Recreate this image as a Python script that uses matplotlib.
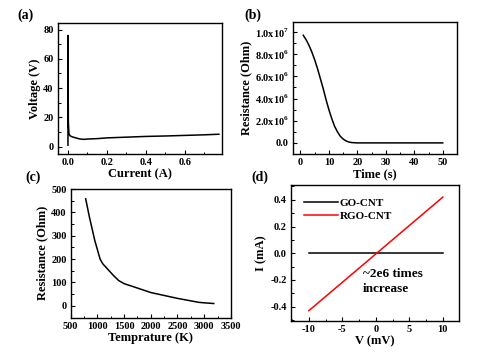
import matplotlib
matplotlib.use("Agg")
import matplotlib.pyplot as plt
from matplotlib.ticker import AutoMinorLocator

plt.rcParams['font.family'] = ['Liberation Serif', 'DejaVu Serif']
plt.rcParams['font.weight'] = 'bold'
plt.rcParams['axes.labelweight'] = 'bold'
plt.rcParams['axes.unicode_minus'] = False
plt.rcParams['mathtext.fontset'] = 'custom'
plt.rcParams['mathtext.rm'] = 'Liberation Serif:bold'
plt.rcParams['mathtext.bf'] = 'Liberation Serif:bold'

# (a) voltage vs current
current = [0.0, 0.0, 0.002, 0.005, 0.01, 0.02, 0.04, 0.06, 0.08, 0.1, 0.15,
           0.2, 0.3, 0.4, 0.5, 0.6, 0.7, 0.775]
voltage = [1, 76, 17, 9, 7.5, 6.8, 6.0, 5.3, 5.0, 5.2, 5.5,
           6.0, 6.5, 7.0, 7.3, 7.7, 8.1, 8.5]

# (b) resistance vs time
time_s = [1, 2, 3, 4, 5, 6, 7, 8, 9, 10, 11, 12, 13, 14, 15, 16, 17, 18,
          20, 25, 30, 40, 50]
res_time = [9.7e6, 9.3e6, 8.8e6, 8.2e6, 7.5e6, 6.7e6, 5.8e6, 4.9e6, 3.9e6,
            3.0e6, 2.2e6, 1.5e6, 1.0e6, 0.6e6, 0.35e6, 0.18e6, 0.08e6,
            0.03e6, 0, 0, 0, 0, 0]
b_ticks = [0, 2e6, 4e6, 6e6, 8e6, 1e7]
b_labels = ['0.0', '2.0x10$^{6}$', '4.0x10$^{6}$', '6.0x10$^{6}$',
            '8.0x10$^{6}$', '1.0x10$^{7}$']

# (c) resistance vs temperature
temp = [780, 850, 950, 1050, 1100, 1200, 1300, 1400, 1500, 1700, 2000,
        2500, 2900, 3000, 3180]
res_temp = [458, 380, 280, 200, 180, 155, 130, 108, 95, 80, 57,
            32, 15, 13, 10]

# (d) I-V curves
volt_mv = [-10, 10]
i_go = [0.0, 0.0]
i_rgo = [-0.43, 0.42]

fig = plt.figure(figsize=(4.78, 3.54), dpi=100)


def style(ax):
    ax.tick_params(direction='in', labelsize=7.5, length=3, width=0.8, pad=3)
    ax.tick_params(which='minor', direction='in', length=1.8, width=0.7)
    ax.xaxis.set_minor_locator(AutoMinorLocator(2))
    ax.yaxis.set_minor_locator(AutoMinorLocator(2))
    for s in ax.spines.values():
        s.set_linewidth(1.0)


ax1 = fig.add_axes([0.121, 0.565, 0.343, 0.370])
ax1.plot(current, voltage, color='black', lw=1.1)
ax1.set_xlim(-0.052, 0.79)
ax1.set_ylim(-5, 84.5)
ax1.set_xticks([0.0, 0.2, 0.4, 0.6])
ax1.set_yticks([0, 20, 40, 60, 80])
ax1.set_xlabel('Current (A)', fontsize=9, labelpad=1)
ax1.set_ylabel('Voltage (V)', fontsize=9, labelpad=2)
style(ax1)

ax2 = fig.add_axes([0.613, 0.565, 0.343, 0.372])
ax2.plot(time_s, res_time, color='black', lw=1.1)
ax2.set_xlim(-2.6, 55)
ax2.set_ylim(-1.0e6, 1.087e7)
ax2.set_xticks([0, 10, 20, 30, 40, 50])
ax2.set_yticks(b_ticks)
ax2.set_yticklabels(b_labels)
ax2.set_xlabel('Time (s)', fontsize=9, labelpad=1)
ax2.set_ylabel('Resistance (Ohm)', fontsize=9, labelpad=2)
style(ax2)

ax3 = fig.add_axes([0.148, 0.103, 0.335, 0.363])
ax3.plot(temp, res_temp, color='black', lw=1.1)
ax3.set_xlim(500, 3500)
ax3.set_ylim(-50, 500)
ax3.set_xticks([500, 1000, 1500, 2000, 2500, 3000, 3500])
ax3.set_yticks([0, 100, 200, 300, 400, 500])
ax3.set_xlabel('Temprature (K)', fontsize=9, labelpad=1)
ax3.set_ylabel('Resistance (Ohm)', fontsize=9, labelpad=2)
style(ax3)

ax4 = fig.add_axes([0.609, 0.094, 0.351, 0.383])
ax4.plot(volt_mv, i_go, color='black', lw=1.1, label='GO-CNT')
ax4.plot(volt_mv, i_rgo, color='red', lw=1.1, label='RGO-CNT')
ax4.set_xlim(-12.65, 12.4)
ax4.set_ylim(-0.505, 0.51)
ax4.set_xticks([-10, -5, 0, 5, 10])
ax4.set_yticks([-0.4, -0.2, 0.0, 0.2, 0.4])
ax4.set_xlabel('V (mV)', fontsize=9, labelpad=1)
ax4.set_ylabel('I (mA)', fontsize=9, labelpad=2)
ax4.legend(loc='upper left', frameon=False, fontsize=8, handlelength=3.0,
           handletextpad=0.2, labelspacing=0.3, borderaxespad=0.8)
ax4.text(-1.9, -0.155, '~2e6 times', fontsize=9.5, va='center', ha='left')
ax4.text(-1.9, -0.27, 'increase', fontsize=9.5, va='center', ha='left')
style(ax4)

fig.text(26 / 478, 1 - 15 / 354, '(a)', fontsize=10, ha='center', va='center')
fig.text(253 / 478, 1 - 15 / 354, '(b)', fontsize=10, ha='center', va='center')
fig.text(33 / 478, 1 - 177 / 354, '(c)', fontsize=10, ha='center', va='center')
fig.text(260 / 478, 1 - 177 / 354, '(d)', fontsize=10, ha='center', va='center')

fig.savefig('out.png', dpi=100)
